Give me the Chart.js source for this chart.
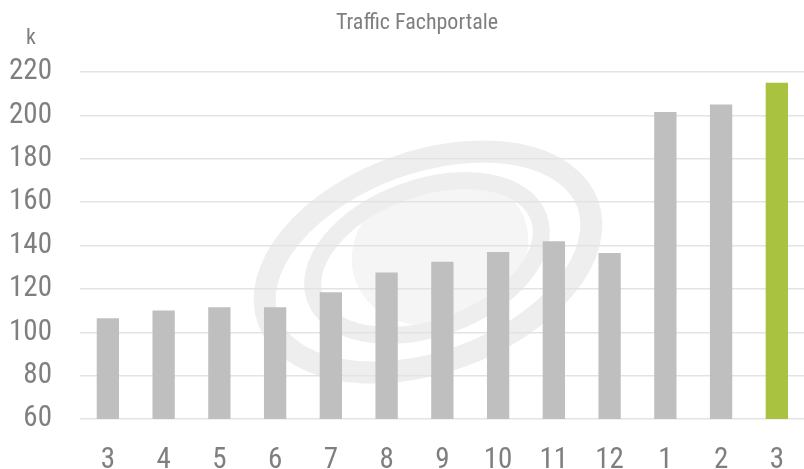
<!DOCTYPE html>
<html>
<head>
<meta charset="utf-8">
<script src="https://cdn.jsdelivr.net/npm/chart.js@4/dist/chart.umd.min.js"></script>
<style>
    html, body { margin: 0; padding: 0; background: #fff; overflow: hidden; }
    #wrap { width: 808px; height: 469px; }
</style>
</head>
<body>
<div id="wrap"><canvas id="trafficChart" width="808" height="469"></canvas></div>
<script>
    'use strict';

    // chart data
    var months = ['3', '4', '5', '6', '7', '8', '9', '10', '11', '12', '1', '2', '3'];
    var visits = [106.5, 110, 111.5, 111.5, 118.5, 127.5, 132.5, 137, 142, 136.5, 201.5, 205, 215];
    var yTicks = [60, 80, 100, 120, 140, 160, 180, 200, 220];
    var chartTitle = 'Traffic Fachportale';
    var unitLabel = 'k';

    var FONT = '"Liberation Sans Narrow", "Arial Narrow", "Roboto Condensed", "Liberation Sans", sans-serif';
    var TEXT = '#7f7f7f';

    var barColors = visits.map(function (v, i) {
        return i === visits.length - 1 ? '#a9c23f' : '#bfbfbf';
    });

    // faint logo swirl behind the bars
    var watermark = {
        id: 'watermark',
        beforeDraw: function (chart) {
            var ctx = chart.ctx;
            var tilt = -Math.PI / 9;
            ctx.save();
            // soft inner disc
            ctx.fillStyle = '#f5f5f5';
            ctx.beginPath();
            ctx.ellipse(440, 250, 90, 74, tilt, 0, Math.PI * 2);
            ctx.fill();
            // rings
            ctx.strokeStyle = '#eeeeee';
            ctx.lineWidth = 22;
            ctx.beginPath();
            ctx.ellipse(428, 262, 170, 100, tilt, 0, Math.PI * 2);
            ctx.stroke();
            ctx.lineWidth = 17;
            ctx.beginPath();
            ctx.ellipse(427, 258, 119, 70, tilt, 0, Math.PI * 2);
            ctx.stroke();
            ctx.restore();
        }
    };

    var labelsPlugin = {
        id: 'headerText',
        afterDraw: function (chart) {
            var ctx = chart.ctx;
            ctx.save();
            ctx.fillStyle = TEXT;
            ctx.textBaseline = 'middle';
            ctx.textAlign = 'center';
            ctx.font = '22px ' + FONT;
            ctx.fillText(chartTitle, 417, 23);
            ctx.fillText(unitLabel, 31, 38);
            ctx.restore();
        }
    };

    new Chart(document.getElementById('trafficChart'), {
        type: 'bar',
        data: {
            labels: months,
            datasets: [{
                data: visits,
                backgroundColor: barColors,
                borderWidth: 0,
                barPercentage: 0.4,
                categoryPercentage: 1.0
            }]
        },
        options: {
            responsive: false,
            animation: false,
            layout: { padding: { top: 72, right: 0, left: 0, bottom: 0 } },
            plugins: {
                legend: { display: false },
                title: { display: false },
                tooltip: { enabled: false }
            },
            scales: {
                x: {
                    grid: { display: false, drawTicks: false },
                    border: { display: false },
                    ticks: {
                        color: TEXT,
                        font: { family: FONT, size: 29 },
                        padding: 24,
                        maxRotation: 0
                    },
                    afterFit: function (scale) { scale.height = 50; }
                },
                y: {
                    min: 60,
                    max: 220,
                    afterBuildTicks: function (scale) {
                        scale.ticks = yTicks.map(function (v) { return { value: v }; });
                    },
                    grid: { color: '#e3e3e3', lineWidth: 1.5, drawTicks: false },
                    border: { display: false },
                    ticks: {
                        color: TEXT,
                        font: { family: FONT, size: 29 },
                        padding: 28
                    },
                    afterFit: function (scale) { scale.width = 80; }
                }
            }
        },
        plugins: [watermark, labelsPlugin]
    });
</script>
</body>
</html>
